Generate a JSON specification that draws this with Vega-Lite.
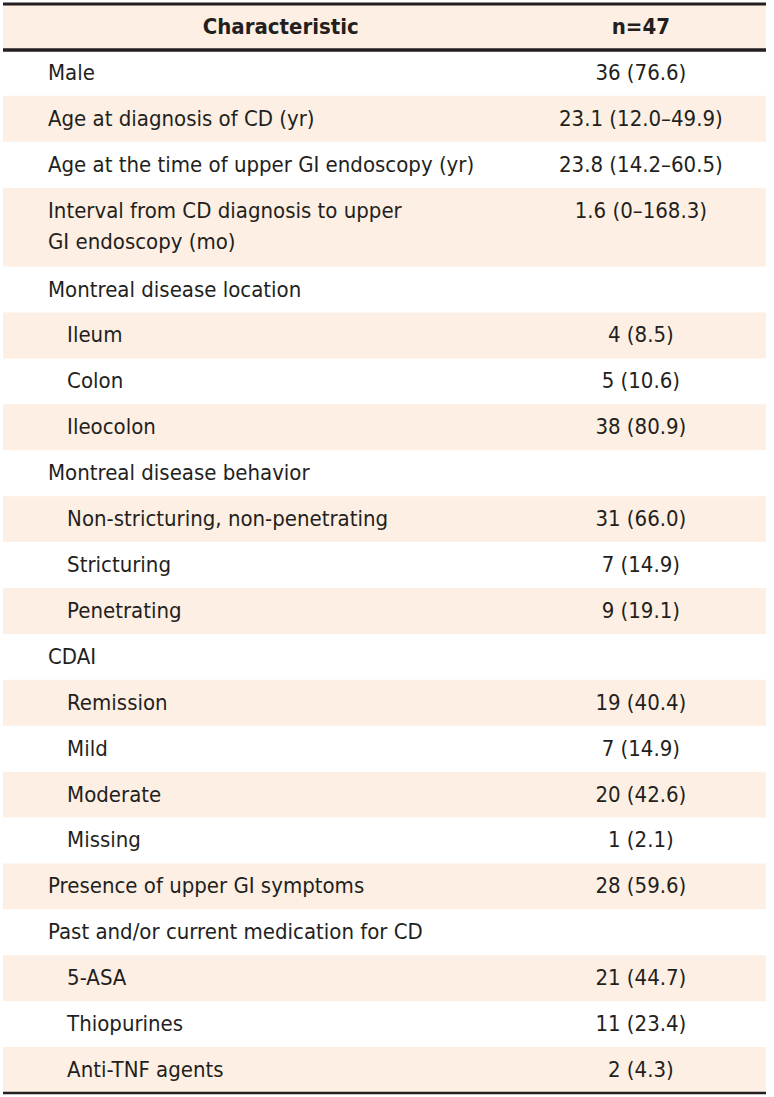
{
  "$schema": "https://vega.github.io/schema/vega-lite/v6.json",
  "width": 763,
  "height": 1089,
  "padding": {"top": 4, "bottom": 4, "left": 3, "right": 8},
  "autosize": {"type": "none"},
  "background": "white",
  "config": {"view": {"stroke": null}, "text": {"font": "DejaVu Sans Condensed, Roboto", "fontSize": 22, "color": "#231f20"}},
  "data": {"values": [
    {"label": "Characteristic", "value": "n=47", "header": true},
    {"label": "Male", "value": "36 (76.6)"},
    {"label": "Age at diagnosis of CD (yr)", "value": "23.1 (12.0–49.9)"},
    {"label": "Age at the time of upper GI endoscopy (yr)", "value": "23.8 (14.2–60.5)"},
    {"label": ["Interval from CD diagnosis to upper", "\u00a0GI endoscopy (mo)"], "value": "1.6 (0–168.3)"},
    {"label": "Montreal disease location", "value": ""},
    {"label": "Ileum", "value": "4 (8.5)", "sub": true},
    {"label": "Colon", "value": "5 (10.6)", "sub": true},
    {"label": "Ileocolon", "value": "38 (80.9)", "sub": true},
    {"label": "Montreal disease behavior", "value": ""},
    {"label": "Non-stricturing, non-penetrating", "value": "31 (66.0)", "sub": true},
    {"label": "Stricturing", "value": "7 (14.9)", "sub": true},
    {"label": "Penetrating", "value": "9 (19.1)", "sub": true},
    {"label": "CDAI", "value": ""},
    {"label": "Remission", "value": "19 (40.4)", "sub": true},
    {"label": "Mild", "value": "7 (14.9)", "sub": true},
    {"label": "Moderate", "value": "20 (42.6)", "sub": true},
    {"label": "Missing", "value": "1 (2.1)", "sub": true},
    {"label": "Presence of upper GI symptoms", "value": "28 (59.6)"},
    {"label": "Past and/or current medication for CD", "value": ""},
    {"label": "5-ASA", "value": "21 (44.7)", "sub": true},
    {"label": "Thiopurines", "value": "11 (23.4)", "sub": true},
    {"label": "Anti-TNF agents", "value": "2 (4.3)", "sub": true}
  ]},
  "transform": [
    {"window": [{"op": "row_number", "as": "i"}]},
    {"calculate": "isArray(datum.label) ? 1.72 : 1", "as": "u"},
    {"window": [{"op": "sum", "field": "u", "as": "end"}], "frame": [null, 0]},
    {"calculate": "datum.end - datum.u", "as": "start"},
    {"calculate": "(datum.start + datum.end) / 2", "as": "mid"},
    {"calculate": "datum.start + 0.5", "as": "vmid"},
    {"calculate": "datum.sub ? 8.4 : 5.9", "as": "lx"}
  ],
  "layer": [
    {
      "transform": [{"filter": "datum.i % 2 == 1"}],
      "mark": {"type": "rect", "color": "#fdefe3"},
      "encoding": {
        "x": {"datum": 0, "type": "quantitative", "scale": {"domain": [0, 100], "nice": false, "zero": false}, "axis": null},
        "x2": {"datum": 100},
        "y": {"field": "start", "type": "quantitative", "scale": {"domain": [0, 23.72], "nice": false, "zero": false, "reverse": true}, "axis": null},
        "y2": {"field": "end"}
      }
    },
    {
      "transform": [{"filter": "datum.header"}],
      "mark": {"type": "rule", "color": "#231f20", "strokeWidth": 3},
      "encoding": {
        "x": {"datum": 0, "type": "quantitative"},
        "x2": {"datum": 100},
        "y": {"field": "start", "type": "quantitative"}
      }
    },
    {
      "transform": [{"filter": "datum.header"}],
      "mark": {"type": "rule", "color": "#231f20", "strokeWidth": 3.5},
      "encoding": {
        "x": {"datum": 0, "type": "quantitative"},
        "x2": {"datum": 100},
        "y": {"field": "end", "type": "quantitative"}
      }
    },
    {
      "transform": [{"filter": "datum.i == 23"}],
      "mark": {"type": "rule", "color": "#231f20", "strokeWidth": 2.5},
      "encoding": {
        "x": {"datum": 0, "type": "quantitative"},
        "x2": {"datum": 100},
        "y": {"field": "end", "type": "quantitative"}
      }
    },
    {
      "transform": [{"filter": "datum.header"}],
      "mark": {"type": "text", "fontWeight": "bold", "align": "center", "baseline": "middle"},
      "encoding": {
        "x": {"datum": 36.4, "type": "quantitative"},
        "y": {"field": "mid", "type": "quantitative"},
        "text": {"field": "label"}
      }
    },
    {
      "transform": [{"filter": "datum.header"}],
      "mark": {"type": "text", "fontWeight": "bold", "align": "center", "baseline": "middle"},
      "encoding": {
        "x": {"datum": 83.6, "type": "quantitative"},
        "y": {"field": "mid", "type": "quantitative"},
        "text": {"field": "value"}
      }
    },
    {
      "transform": [{"filter": "!datum.header"}],
      "mark": {"type": "text", "align": "left", "baseline": "middle", "lineHeight": 31},
      "encoding": {
        "x": {"field": "lx", "type": "quantitative"},
        "y": {"field": "vmid", "type": "quantitative"},
        "text": {"field": "label"}
      }
    },
    {
      "transform": [{"filter": "!datum.header"}],
      "mark": {"type": "text", "align": "center", "baseline": "middle"},
      "encoding": {
        "x": {"datum": 83.6, "type": "quantitative"},
        "y": {"field": "vmid", "type": "quantitative"},
        "text": {"field": "value"}
      }
    }
  ]
}
